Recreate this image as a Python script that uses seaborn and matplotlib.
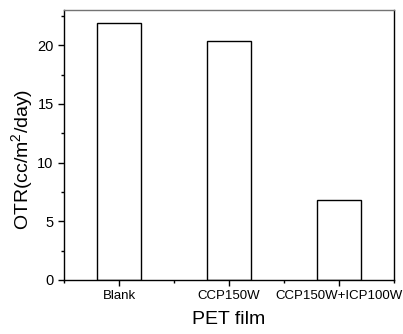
import matplotlib
matplotlib.use('Agg')
import matplotlib.pyplot as plt
import seaborn as sns
import pandas as pd
from matplotlib.ticker import MultipleLocator

films = ['Blank', 'CCP150W', 'CCP150W+ICP100W']
otr = [21.9, 20.4, 6.8]

sns.set_style('ticks')
plt.rcParams['font.family'] = ['Liberation Sans', 'DejaVu Sans']
plt.rcParams['mathtext.fontset'] = 'custom'
plt.rcParams['mathtext.rm'] = 'Liberation Sans'
plt.rcParams['mathtext.it'] = 'Liberation Sans'
plt.rcParams['text.color'] = 'black'
plt.rcParams['axes.labelcolor'] = 'black'
plt.rcParams['xtick.color'] = 'black'
plt.rcParams['ytick.color'] = 'black'

df = pd.DataFrame({'film': films, 'otr': otr})

fig = plt.figure(figsize=(4.03, 3.34), dpi=100)
ax = fig.add_axes([0.159, 0.162, 0.819, 0.808])
sns.barplot(data=df, x='film', y='otr', color='white', edgecolor='black',
            linewidth=1, width=0.4, ax=ax)

ax.set_xlim(-0.5, 2.5)
ax.set_ylim(0, 23)
ax.yaxis.set_major_locator(MultipleLocator(5))
ax.yaxis.set_minor_locator(MultipleLocator(2.5))
ax.xaxis.set_minor_locator(MultipleLocator(0.5))
ax.tick_params(axis='both', which='both', direction='out', top=False, right=False)
ax.tick_params(axis='both', which='major', length=4, width=1)
ax.tick_params(axis='both', which='minor', length=2.5, width=1)
ax.tick_params(axis='x', labelsize=9.5)
ax.tick_params(axis='y', labelsize=10.5)
for s in ax.spines.values():
    s.set_visible(True)
    s.set_color('black')
    s.set_linewidth(1)
ax.spines['top'].set_color('0.45')

ax.set_xlabel('PET film', fontsize=14, labelpad=6)
ax.set_ylabel('OTR(cc/m$^2$/day)', fontsize=14, labelpad=2, y=0.445)

fig.savefig('out.png', dpi=100)
